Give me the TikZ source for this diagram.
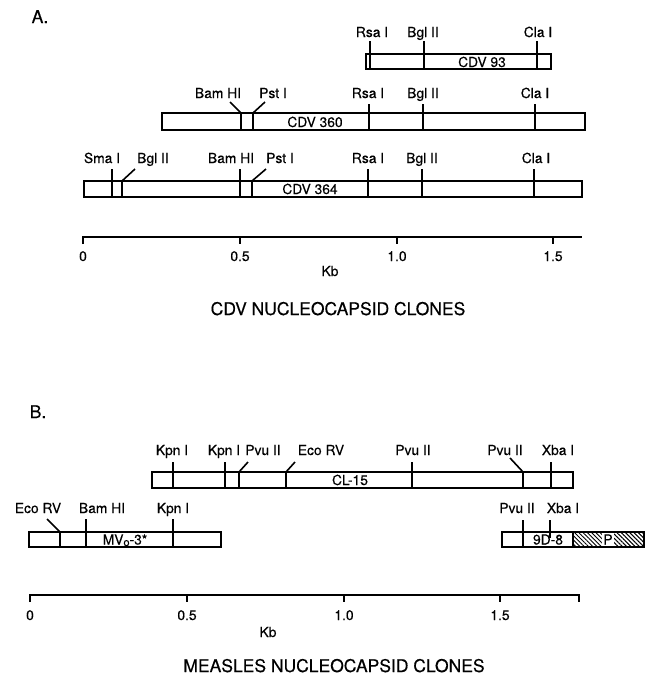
\documentclass[tikz,border=0pt]{standalone}
\usepackage{fontspec}
\setmainfont{TeX Gyre Heros}[FakeBold=0.4]
\usetikzlibrary{patterns.meta}
\begin{document}
\begin{tikzpicture}[x=1pt,y=-1pt,
  lab/.style={font=\fontsize{13.8}{16}\selectfont, inner sep=0pt, anchor=base},
  big/.style={font=\fontsize{17.5}{20}\selectfont, inner sep=0pt, anchor=base},
  clonebox/.style={draw, line width=1.5pt},
  cut/.style={line width=1.6pt},
  axisline/.style={line width=1.6pt}]
\useasboundingbox (0,0) rectangle (648,675);

% ---------------- Panel A ----------------
\node[big] (A) at (40,23) {A.};

% CDV 93
\draw[clonebox] (366,54) rectangle (551,69);
\node[lab] (t93) at (482,67) {CDV 93};
\node[lab] (a1) at (372,37) {Rsa I};
\node[lab] (a2) at (423,37) {Bgl II};
\node[lab] (a3) at (538,37) {Cla I};
\draw[cut] (370,41) -- (370,69);
\draw[cut] (424,41) -- (424,69);
\draw[cut] (537,41) -- (537,69);

% CDV 360
\draw[clonebox] (162,113) rectangle (585,130);
\node[lab] (t360) at (315,127) {CDV 360};
\node[lab] (b1) at (218,98) {Bam HI};
\node[lab] (b2) at (273,98) {Pst I};
\node[lab] (b3) at (368,98) {Rsa I};
\node[lab] (b4) at (423,98) {Bgl II};
\node[lab] (b5) at (535,98) {Cla I};
\draw[cut] (230,102) -- (241,113) -- (241,130);
\draw[cut] (265,102) -- (253,113) -- (253,130);
\draw[cut] (369,104) -- (369,130);
\draw[cut] (423,104) -- (423,130);
\draw[cut] (535,104) -- (535,130);

% CDV 364
\draw[clonebox] (84,181) rectangle (582,197);
\node[lab] (t364) at (310,194) {CDV 364};
\node[lab] (c1) at (102,163) {Sma I};
\node[lab] (c2) at (153,163) {Bgl II};
\node[lab] (c3) at (231,163) {Bam HI};
\node[lab] (c4) at (280,163) {Pst I};
\node[lab] (c5) at (368,163) {Rsa I};
\node[lab] (c6) at (422,163) {Bgl II};
\node[lab] (c7) at (536,163) {Cla I};
\draw[cut] (112,169) -- (112,197);
\draw[cut] (135,169) -- (122,181) -- (122,197);
\draw[cut] (240,169) -- (240,197);
\draw[cut] (266,169) -- (252,181) -- (252,197);
\draw[cut] (368,169) -- (368,197);
\draw[cut] (422,169) -- (422,197);
\draw[cut] (534,169) -- (534,197);

% scale A
\draw[axisline] (83,244) -- (83,237) -- (582,237);
\draw[axisline] (240,237) -- (240,244);
\draw[axisline] (397,237) -- (397,244);
\draw[axisline] (553,237) -- (553,244);
\node[lab] (s0) at (83,261) {0};
\node[lab] (s1) at (240,261) {0.5};
\node[lab] (s2) at (397,261) {1.0};
\node[lab] (s3) at (553,261) {1.5};
\node[lab] (kbA) at (330,276) {Kb};
\node[big] (titA) at (338,315) {CDV NUCLEOCAPSID CLONES};

% ---------------- Panel B ----------------
\node[big] (B) at (38,418) {B.};

% CL-15
\draw[clonebox] (152,472) rectangle (573,488);
\node[lab] (tcl) at (350,485) {CL-15};
\node[lab] (d1) at (172,455) {Kpn I};
\node[lab] (d2) at (224,455) {Kpn I};
\node[lab] (d3) at (263,455) {Pvu II};
\node[lab] (d4) at (321,455) {Eco RV};
\node[lab] (d5) at (413,455) {Pvu II};
\node[lab] (d6) at (505,455) {Pvu II};
\node[lab] (d7) at (558,455) {Xba I};
\draw[cut] (173,462) -- (173,488);
\draw[cut] (225,462) -- (225,488);
\draw[cut] (248,462) -- (239,472) -- (239,488);
\draw[cut] (295,462) -- (286,472) -- (286,488);
\draw[cut] (412,462) -- (412,488);
\draw[cut] (510,458) -- (523,472) -- (523,488);
\draw[cut] (551,462) -- (551,488);

% MVo-3*
\draw[clonebox] (29,532) rectangle (221,547);
\node[lab] (tmv) at (125,544.5) {MV\raisebox{-1.5pt}{\fontsize{11}{12}\selectfont o}-3*};
\node[lab] (e1) at (38,513) {Eco RV};
\node[lab] (e2) at (102,513) {Bam HI};
\node[lab] (e3) at (173,513) {Kpn I};
\draw[cut] (47,519) -- (60,532) -- (60,547);
\draw[cut] (86,519) -- (86,547);
\draw[cut] (173,519) -- (173,547);

% 9D-8
\fill[pattern={Lines[angle=-45,distance=3pt,line width=1pt]}] (573,532) rectangle (644,547);
\draw[clonebox] (502,532) rectangle (644,547);
\draw[clonebox] (573,532) -- (573,547);
\node[lab] (t9d) at (548,544.5) {9D-8};
\node[lab, fill=white, inner sep=1pt] (tp) at (608,544.5) {P};
\node[lab] (f1) at (517,513) {Pvu II};
\node[lab] (f2) at (563,513) {Xba I};
\draw[cut] (523,520) -- (523,547);
\draw[cut] (550,520) -- (550,538);

% scale B
\draw[axisline] (30,602) -- (30,595) -- (579,595) -- (579,602);
\draw[axisline] (187,595) -- (187,602);
\draw[axisline] (344,595) -- (344,602);
\draw[axisline] (500,595) -- (500,602);
\node[lab] (u0) at (30,620) {0};
\node[lab] (u1) at (187,620) {0.5};
\node[lab] (u2) at (344,620) {1.0};
\node[lab] (u3) at (500,620) {1.5};
\node[lab] (kbB) at (268,637) {Kb};
\node[big] (titB) at (334,672) {MEASLES NUCLEOCAPSID CLONES};
\end{tikzpicture}
\end{document}
